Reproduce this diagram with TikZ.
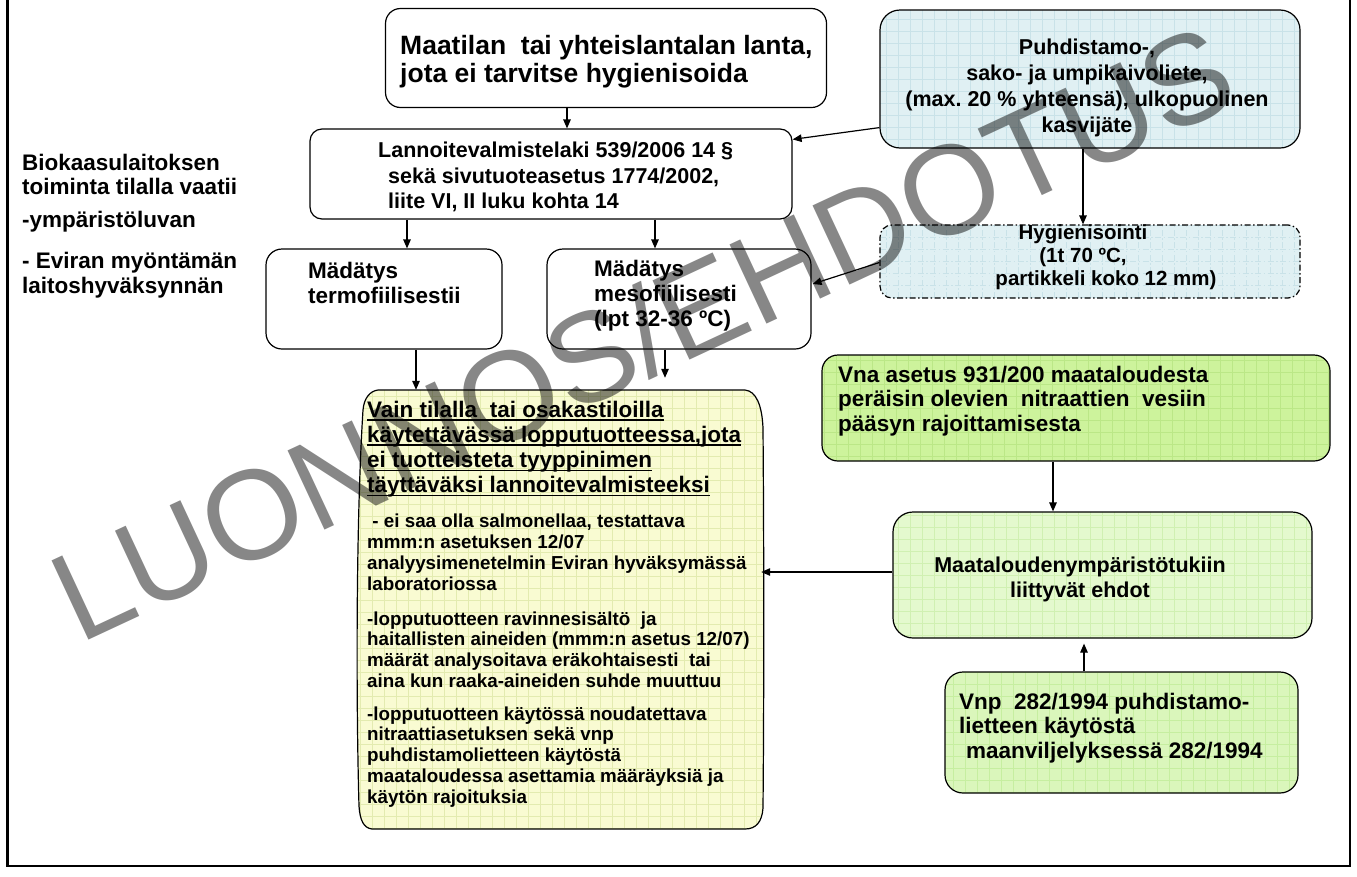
\documentclass[tikz,border=0pt]{standalone}
\usepackage{fontspec}
\setmainfont{Liberation Sans}
\usetikzlibrary{arrows.meta,calc}
\frenchspacing

\definecolor{bluefill}{HTML}{E0F0F3}
\definecolor{bluegrid}{HTML}{C9E2E8}
\definecolor{yelfill}{HTML}{F9FBD2}
\definecolor{yelgrid}{HTML}{E3EBB0}
\definecolor{greenA}{HTML}{CDF39C}
\definecolor{greenAgrid}{HTML}{BBE787}
\definecolor{greenB}{HTML}{E4F9CE}
\definecolor{greenBgrid}{HTML}{D0F0B2}
\definecolor{greenC}{HTML}{DAF6BB}
\definecolor{greenCgrid}{HTML}{C6EEA0}

\newcommand\fs[2]{\fontsize{#1}{#2}\selectfont}
\newcommand\ulline[1]{\setbox0\hbox{#1}\rlap{\rule[-3.5pt]{\wd0}{1.6pt}}\box0}
% lines of text: name, anchor, x, first baseline, line step, {lines}
\newcommand\textlines[6]{%
  \foreach \t [count=\k] in {#6} {\node[anchor=#2, inner sep=0pt] (#1\k) at (#3, {#4+(\k-1)*#5}) {\t};}}

\tikzset{
  box/.style={draw=black, line width=1.2pt, fill=white, inner sep=0pt, rounded corners=#1},
  box/.default=14pt,
  gridded/.style={path picture={\draw[#1, line width=0.6pt, step=12pt]
      (path picture bounding box.south west) grid (path picture bounding box.north east);}},
  arr/.style={draw=black, line width=1.2pt, -{Triangle[length=9pt,width=7.5pt]}},
  dashdot/.style={dash pattern=on 6pt off 2.5pt on 1.5pt off 2.5pt},
}

\begin{document}
\begin{tikzpicture}[x=1pt, y=-1pt, font=\bfseries]
\useasboundingbox (0,0) rectangle (1357,876);

% outer frame (open at the top)
\draw[line width=2.6pt] (7.3,0) -- (7.3,866) -- (1350,866) -- (1350,0);

% boxes
\node[box=15pt, minimum width=441pt, minimum height=99pt] (A) at (606,58) {};
\node[box=20pt, fill=bluefill, gridded=bluegrid, minimum width=420pt, minimum height=138pt] (B) at (1090,79) {};
\node[box=12pt, minimum width=482pt, minimum height=90pt] (C) at (551,174) {};
\node[box=12pt, dashdot, fill=bluefill, gridded=bluegrid, minimum width=420pt, minimum height=73pt] (D) at (1090,261.5) {};
\node[box=16pt, minimum width=236pt, minimum height=100pt] (E) at (384,299) {};
\node[box=16pt, minimum width=264pt, minimum height=100pt] (F) at (679,299) {};
\node[box=16pt, fill=greenA, gridded=greenAgrid, minimum width=508pt, minimum height=106pt] (H) at (1076,408) {};
\node[box=20pt, fill=greenB, gridded=greenBgrid, minimum width=419pt, minimum height=126pt] (I) at (1102.5,575) {};
\node[box=18pt, fill=greenC, gridded=greenCgrid, minimum width=353pt, minimum height=121pt] (J) at (1121.5,732.5) {};

% scroll-like yellow box
\node[inner sep=0pt, minimum width=404pt, minimum height=439pt] (G) at (561,609.5) {};
\path[draw=black, line width=1.2pt, fill=yelfill, gridded=yelgrid]
  (378,390) -- (745,390) .. controls (756,391) and (762,405) .. (763,428)
  .. controls (764,550) and (764,700) .. (763,808)
  .. controls (762,822) and (756,829) .. (745,829)
  -- (372,829) .. controls (364,828) and (360,821) .. (359,806)
  .. controls (356,700) and (356,520) .. (363,410)
  .. controls (364,398) and (370,391) .. (378,390) -- cycle;

% connectors
\draw[arr] ($(A.south)+(-39,0)$) -- ($(C.north)+(16,0)$);
\draw[arr] ($(B.south west)+(0,-21)$) -- ($(C.north east)+(0,11)$);
\draw[arr] ($(B.south)+(-7,0)$) -- ($(D.north)+(-7,0)$);
\draw[arr] ($(C.south)+(-144,0)$) -- ($(E.north)+(23,0)$);
\draw[arr] ($(C.south)+(104,0)$) -- ($(F.north)+(-24,0)$);
\draw[arr] ($(D.west)+(0,1)$) -- ($(F.east)+(1,-15)$);
\draw[arr] ($(E.south)+(32,0)$) -- ($(G.north)+(-145,0)$);
\draw[arr] ($(F.south)+(-14,0)$) -- ($(G.north)+(104,-12)$);
\draw[arr] ($(H.south)+(-23,0)$) -- ($(I.north)+(-49.5,0)$);
\draw[arr] ($(I.west)+(0,-3)$) -- ($(G.east)+(-2,-37.5)$);
\draw[arr] ($(J.north)+(-37.5,0)$) -- ($(I.south)+(-18.5,5)$);

% texts
\begin{scope}[every node/.append style={font=\bfseries\fs{22.5}{25}}]
\textlines{lt}{base west}{22}{170}{24}{{Biokaasulaitoksen},{toiminta tilalla vaatii}}
\textlines{lu}{base west}{22}{227}{0}{{-ympäristöluvan}}
\textlines{le}{base west}{22}{268}{25}{{- Eviran myöntämän},{laitoshyväksynnän}}
\end{scope}

\begin{scope}[every node/.append style={font=\bfseries\fs{26.5}{28}}]
\textlines{ta}{base west}{400}{54}{28}{{Maatilan\ \ tai yhteislantalan lanta,},{jota ei tarvitse hygienisoida}}
\end{scope}

\begin{scope}[every node/.append style={font=\bfseries\fs{21.5}{25}}]
\textlines{tb}{base}{1087}{54}{26}{{Puhdistamo-,},{sako- ja umpikaivoliete,},{(max. 20 \% yhteensä), ulkopuolinen},{kasvijäte}}
\textlines{tc}{base west}{378}{157}{0}{{Lannoitevalmistelaki 539/2006 14 §}}
\textlines{td}{base west}{388}{183}{25}{{sekä sivutuoteasetus 1774/2002,},{liite VI, II luku kohta 14}}
\textlines{ti}{base}{1080}{572}{25}{{Maataloudenympäristötukiin},{liittyvät ehdot}}
\end{scope}

\begin{scope}[every node/.append style={font=\bfseries\fs{22.5}{25}}]
\textlines{th}{base west}{838}{382}{24.5}{{Vna asetus 931/200 maataloudesta},{peräisin olevien\ \ nitraattien\ \ vesiin},{pääsyn rajoittamisesta}}
\textlines{tj}{base west}{959}{709}{24.5}{{Vnp\ \ 282/1994 puhdistamo-},{lietteen käytöstä}}
\textlines{tk}{base west}{966}{758}{0}{{maanviljelyksessä 282/1994}}
\end{scope}

\begin{scope}[every node/.append style={font=\bfseries\fs{20.5}{23}}]
\textlines{tn}{base}{1083}{239}{23}{{Hygienisointi},{(1t 70 ºC,}}
\textlines{tp}{base}{1106}{285}{0}{{partikkeli koko 12 mm)}}
\end{scope}

\begin{scope}[every node/.append style={font=\bfseries\fs{22.5}{25}}]
\textlines{te}{base west}{308}{278}{25}{{Mädätys},{termofiilisestii}}
\textlines{tf}{base west}{594}{276}{25}{{Mädätys},{mesofiilisesti},{(lpt 32-36 ºC)}}
\textlines{tg}{base west}{367}{417}{25.3}{{\ulline{Vain tilalla\ \ tai osakastiloilla}},{\ulline{käytettävässä lopputuotteessa,jota}},{\ulline{ei tuotteisteta tyyppinimen}},{\ulline{täyttäväksi lannoitevalmisteeksi}}}
\end{scope}

\begin{scope}[every node/.append style={font=\bfseries\fs{18.8}{21}}]
\textlines{ga}{base west}{367}{527}{21}{{\ - ei saa olla salmonellaa, testattava},{mmm:n asetuksen 12/07},{analyysimenetelmin Eviran hyväksymässä},{laboratoriossa}}
\textlines{gb}{base west}{367}{625}{20.7}{{-lopputuotteen ravinnesisältö\ \ ja},{haitallisten aineiden (mmm:n asetus 12/07)},{määrät analysoitava eräkohtaisesti\ \ tai},{aina kun raaka-aineiden suhde muuttuu}}
\textlines{gc}{base west}{367}{720}{20.8}{{-lopputuotteen käytössä noudatettava},{nitraattiasetuksen sekä vnp},{puhdistamolietteen käytöstä},{maataloudessa asettamia määräyksiä ja},{käytön rajoituksia}}
\end{scope}

% watermark
\node[rotate=25, inner sep=0pt, font={\mdseries\fs{127}{127}}, text=black, text opacity=0.47] (wm) at (642,332) {LUONNOS/EHDOTUS};
\end{tikzpicture}
\end{document}
